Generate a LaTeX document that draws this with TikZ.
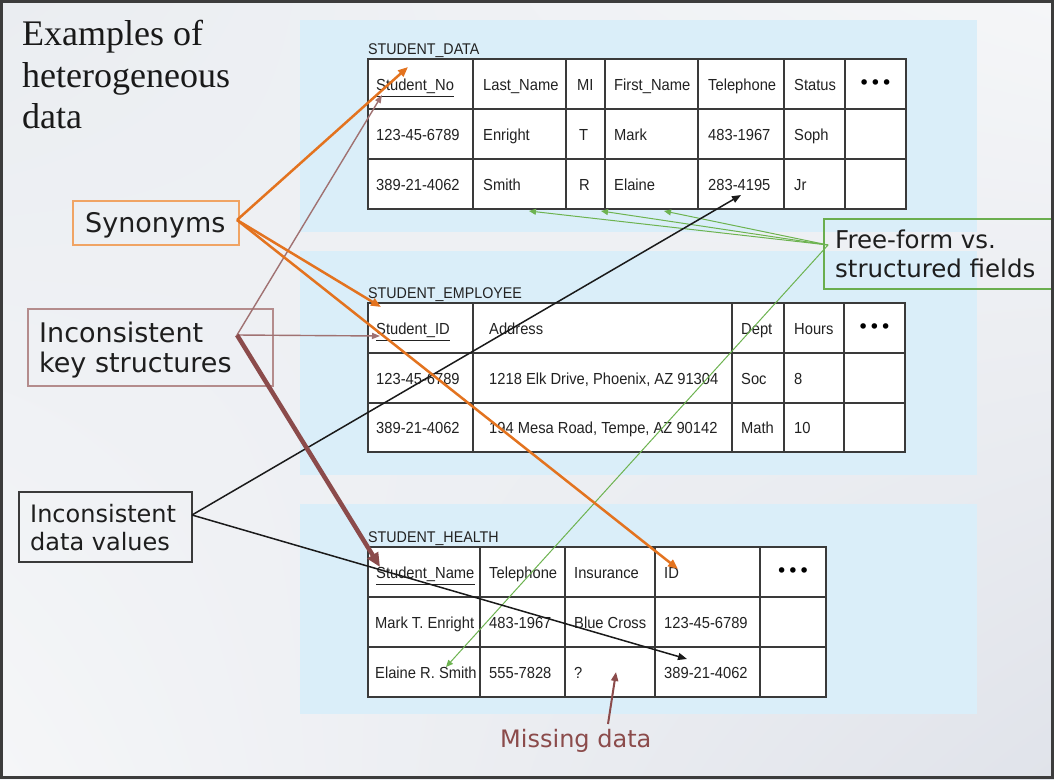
\documentclass[tikz,border=0pt]{standalone}
\usepackage{fontspec}
\setmainfont{Liberation Serif}
\newfontfamily\tabfont[FakeStretch=0.92]{Liberation Sans}
\newfontfamily\labfont{DejaVu Sans}
\usetikzlibrary{arrows.meta,calc,shadings}
\definecolor{bgA}{HTML}{EAEDF1}
\definecolor{bgB}{HTML}{F5F6F8}
\definecolor{bgC}{HTML}{E0E3EA}
\definecolor{panel}{HTML}{DAEEF9}
\definecolor{tgrid}{HTML}{3A3A3A}
\definecolor{tink}{HTML}{222222}
\definecolor{lblink}{HTML}{1E1E1E}
\definecolor{orng}{HTML}{E3731F}
\definecolor{orngbox}{HTML}{F0A464}
\definecolor{brwn}{HTML}{8B4B4B}
\definecolor{brwnthin}{HTML}{A07272}
\definecolor{brwnbox}{HTML}{B48C8C}
\definecolor{blk}{HTML}{1A1A1A}
\definecolor{datbox}{HTML}{3A3A3A}
\definecolor{grn}{HTML}{6DB350}
\definecolor{grnbox}{HTML}{6AAE4E}
\definecolor{frame}{HTML}{3C3C3C}
\begin{document}
\begin{tikzpicture}[x=1pt,y=-1pt,
  tline/.style={draw=tgrid, line width=1.3pt},
  ttext/.style={font=\tabfont\fontsize{16}{18}\selectfont, anchor=base west, inner sep=0pt, text=tink},
  tlabel/.style={font=\tabfont\fontsize{15.5}{18}\selectfont, anchor=base west, inner sep=0pt, text=tink},
  dots/.style={font=\labfont\fontsize{19}{19}\selectfont, inner sep=0pt, text=black},
  uline/.style={draw=tink, line width=1pt},
  title/.style={font=\fontsize{36}{40}\selectfont, anchor=base west, inner sep=0pt, text=black!90},
  lblbig/.style={font=\labfont\fontsize{27}{31}\selectfont, anchor=base west, inner sep=0pt, text=lblink},
  lblmid/.style={font=\labfont\fontsize{24.5}{28}\selectfont, anchor=base west, inner sep=0pt, text=lblink},
  lblsm/.style={font=\labfont\fontsize{24}{28}\selectfont, anchor=base west, inner sep=0pt, text=lblink},
  lbox/.style={draw, line width=1.3pt, inner sep=0pt},
  oarr/.style={draw=orng, line width=2.5pt, -{Triangle[length=10pt,width=8pt]}},
  barrthin/.style={draw=brwnthin, line width=1.4pt, -{Triangle[length=8pt,width=6pt]}},
  barrthick/.style={draw=brwn, line width=4.5pt, -{Triangle[length=14pt,width=12pt]}},
  karr/.style={draw=blk, line width=1.5pt, -{Triangle[length=9pt,width=7pt]}},
  garr/.style={draw=grn, line width=1pt, -{Triangle[length=7pt,width=6pt]}},
  marr/.style={draw=brwn, line width=2pt, -{Triangle[length=9pt,width=7pt]}}
]
\useasboundingbox (0,0) rectangle (1054,779);
\shade[upper left=bgA, upper right=bgB, lower left=bgB, lower right=bgC] (0,0) rectangle (1054,779);

% panels
\fill[panel] (300,20) rectangle (977,232);
\fill[panel] (300,251) rectangle (977,475);
\fill[panel] (300,504) rectangle (977,714);

% title
\node[title] (ttl1) at (22,45) {Examples of};
\node[title] (ttl2) at (22,87) {heterogeneous};
\node[title] (ttl3) at (22,128) {data};

% ---------- table 1 ----------
\node[tlabel] (lab1) at (368,54.5) {STUDENT\_DATA};
\fill[white] (368,59) rectangle (906,209);
\foreach \x in {473,566,605,698,784,845} \draw[tline] (\x,59) -- (\x,209);
\foreach \y in {109,159} \draw[tline] (368,\y) -- (906,\y);
\draw[tline] (368,59) rectangle (906,209);
\node[ttext] (a11) at (376,90) {Student\_No};
\node[ttext] (a12) at (483,90) {Last\_Name};
\node[ttext] (a13) at (577,90) {MI};
\node[ttext] (a14) at (614,90) {First\_Name};
\node[ttext] (a15) at (708,90) {Telephone};
\node[ttext] (a16) at (794,90) {Status};
\node[dots] (a17) at (875.5,85) {•••};
\node[ttext] (a21) at (376,140) {123-45-6789};
\node[ttext] (a22) at (483,140) {Enright};
\node[ttext] (a23) at (579,140) {T};
\node[ttext] (a24) at (614,140) {Mark};
\node[ttext] (a25) at (708,140) {483-1967};
\node[ttext] (a26) at (794,140) {Soph};
\node[ttext] (a31) at (376,190) {389-21-4062};
\node[ttext] (a32) at (483,190) {Smith};
\node[ttext] (a33) at (579,190) {R};
\node[ttext] (a34) at (614,190) {Elaine};
\node[ttext] (a35) at (708,190) {283-4195};
\node[ttext] (a36) at (794,190) {Jr};
\draw[uline] ($(a11.base west)+(0,6)$) -- ($(a11.base east)+(0,6)$);

% ---------- table 2 ----------
\node[tlabel] (lab2) at (368,298.5) {STUDENT\_EMPLOYEE};
\fill[white] (368,303) rectangle (905,452);
\foreach \x in {473,732,784,844} \draw[tline] (\x,303) -- (\x,452);
\foreach \y in {353,403} \draw[tline] (368,\y) -- (905,\y);
\draw[tline] (368,303) rectangle (905,452);
\node[ttext] (b11) at (376,334) {Student\_ID};
\node[ttext] (b12) at (489,334) {Address};
\node[ttext] (b13) at (741,334) {Dept};
\node[ttext] (b14) at (794,334) {Hours};
\node[dots] (b15) at (874.5,329) {•••};
\node[ttext] (b21) at (376,384) {123-45-6789};
\node[ttext] (b22) at (489,384) {1218 Elk Drive, Phoenix, AZ 91304};
\node[ttext] (b23) at (741,384) {Soc};
\node[ttext] (b24) at (794,384) {8};
\node[ttext] (b31) at (376,433.5) {389-21-4062};
\node[ttext] (b32) at (489,433.5) {194 Mesa Road, Tempe, AZ 90142};
\node[ttext] (b33) at (741,433.5) {Math};
\node[ttext] (b34) at (794,433.5) {10};
\draw[uline] ($(b11.base west)+(0,6)$) -- ($(b11.base east)+(0,6)$);

% ---------- table 3 ----------
\node[tlabel] (lab3) at (368,542.5) {STUDENT\_HEALTH};
\fill[white] (368,547) rectangle (826,697);
\foreach \x in {480,565,655,760} \draw[tline] (\x,547) -- (\x,697);
\foreach \y in {597,647} \draw[tline] (368,\y) -- (826,\y);
\draw[tline] (368,547) rectangle (826,697);
\node[ttext] (c11) at (376,578) {Student\_Name};
\node[ttext] (c12) at (489,578) {Telephone};
\node[ttext] (c13) at (574,578) {Insurance};
\node[ttext] (c14) at (664,578) {ID};
\node[dots] (c15) at (793,573) {•••};
\node[ttext] (c21) at (375,628) {Mark T. Enright};
\node[ttext] (c22) at (489,628) {483-1967};
\node[ttext] (c23) at (574,628) {Blue Cross};
\node[ttext] (c24) at (664,628) {123-45-6789};
\node[ttext] (c31) at (375,678) {Elaine R. Smith};
\node[ttext] (c32) at (489,678) {555-7828};
\node[ttext] (c33) at (574,678) {?};
\node[ttext] (c34) at (664,678) {389-21-4062};
\draw[uline] ($(c11.base west)+(0,6)$) -- ($(c11.base east)+(0,6)$);

% ---------- label boxes ----------
\node[lbox, draw=orngbox, minimum width=166pt, minimum height=44pt] (synbox) at (156,223) {};
\node[lblbig] (syn) at (85,232) {Synonyms};
\node[lbox, draw=brwnbox, minimum width=245pt, minimum height=77pt] (keybox) at (150.5,347.5) {};
\node[lblbig] (key1) at (39,342) {Inconsistent};
\node[lblbig] (key2) at (39,372) {key structures};
\node[lbox, draw=datbox, minimum width=173pt, minimum height=70pt] (datbox) at (105.5,527) {};
\node[lblsm] (dat1) at (30,522) {Inconsistent};
\node[lblsm] (dat2) at (30,550) {data values};
\node[lbox, draw=grnbox, minimum width=232pt, minimum height=70pt] (freebox) at (940,254) {};
\node[lblmid] (free1) at (835,248) {Free-form vs.};
\node[lblmid] (free2) at (835,277) {structured fields};
\node[lblsm, text=brwn] (miss) at (500,747) {Missing data};

% ---------- connector points ----------
\coordinate (synO) at (237,220);
\coordinate (keyO) at (237,335);
\coordinate (datO) at (192,515);
\coordinate (freeO) at (828,245);
\coordinate (misO) at (608,724);
\coordinate (tSNo) at (408,67);
\coordinate (tSID) at (381,307);
\coordinate (tID) at (678,569);
\coordinate (tSNo2) at (382,95);
\coordinate (tSID2) at (380,336);
\coordinate (tSName) at (380,567);
\coordinate (tTel) at (741,195);
\coordinate (tNum) at (687,659);
\coordinate (tLast) at (529,211);
\coordinate (tMI) at (601,211);
\coordinate (tFirst) at (664,211);
\coordinate (tElaine) at (446,667);
\coordinate (tQ) at (616,672);

% ---------- connectors ----------
\draw[garr] (freeO) -- (tLast);
\draw[garr] (freeO) -- (tMI);
\draw[garr] (freeO) -- (tFirst);
\draw[garr] (freeO) -- (tElaine);
\draw[karr] (datO) -- (tTel);
\draw[karr] (datO) -- (tNum);
\draw[barrthin] (keyO) -- (tSNo2);
\draw[barrthin] (keyO) -- (tSID2);
\draw[barrthick] (keyO) -- (tSName);
\draw[oarr] (synO) -- (tSNo);
\draw[oarr] (synO) -- (tSID);
\draw[oarr] (synO) -- (tID);
\draw[marr] (misO) -- (tQ);

% frame
\draw[frame, line width=3pt] (1.5,1.5) rectangle (1052.5,777.5);
\end{tikzpicture}
\end{document}
